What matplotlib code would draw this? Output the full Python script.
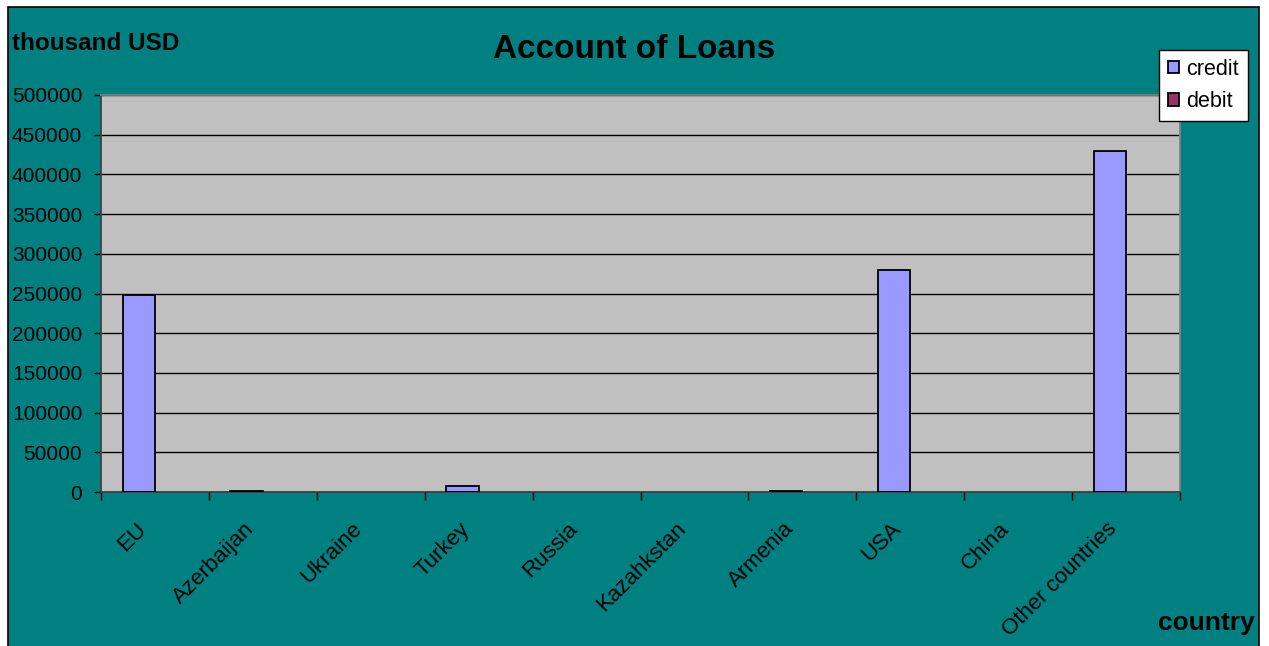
import numpy as np
import matplotlib
matplotlib.use("Agg")
import matplotlib.pyplot as plt
from matplotlib.patches import Rectangle

plt.rcParams["font.family"] = ["Liberation Sans", "DejaVu Sans"]

countries = ["EU", "Azerbaijan", "Ukraine", "Turkey", "Russia", "Kazahkstan",
             "Armenia", "USA", "China", "Other countries"]
credit = [248000, 1500, 0, 7000, 0, 0, 1500, 280000, 0, 430000]
debit = [0, 0, 0, 0, 0, 0, 0, 0, 0, 0]
yticks = list(range(0, 500001, 50000))

TEAL = "#008080"
GREY = "#C0C0C0"
CREDIT_C = "#9999FF"
DEBIT_C = "#993366"

fig = plt.figure(figsize=(12.69, 6.46), dpi=100)
fig.patch.set_facecolor("white")
# teal chart area with black frame, kept behind the axes
fig.patches.append(Rectangle((8 / 1269, -0.01), 1251 / 1269, 1 - 7 / 646 + 0.01,
                             transform=fig.transFigure, facecolor=TEAL,
                             edgecolor="black", linewidth=1.2, zorder=-10))

ax = fig.add_axes([101 / 1269, 1 - 492 / 646, 1079 / 1269, 397 / 646])
ax.set_facecolor(GREY)

x = np.arange(len(countries))
w = 0.3


def edge_widths(vals):
    # empty bars get no outline so they don't thicken the axis line
    return [1.3 if v > 0 else 0 for v in vals]


ax.bar(x - w / 2, credit, w, color=CREDIT_C, edgecolor="black",
       linewidth=edge_widths(credit), label="credit", zorder=3)
ax.bar(x + w / 2, debit, w, color=DEBIT_C, edgecolor="black",
       linewidth=edge_widths(debit), label="debit", zorder=3)

ax.set_xlim(-0.5, len(countries) - 0.5)
ax.set_ylim(0, 500000)
ax.set_yticks(yticks)
ax.set_yticklabels([str(v) for v in yticks], fontsize=15)
ax.yaxis.grid(True, color="black", linewidth=1.0, zorder=1)
ax.set_axisbelow(True)

# ticks at category boundaries; rotated names placed just left of each centre
ax.set_xticks(np.arange(len(countries) + 1) - 0.5)
ax.set_xticklabels([])
for i, name in enumerate(countries):
    ax.annotate(name, xy=(i, 0), xycoords=("data", "axes fraction"),
                xytext=(-14, -19), textcoords="offset points",
                fontsize=16, rotation=45, ha="right", va="top",
                rotation_mode="anchor", annotation_clip=False)
ax.tick_params(axis="x", length=6, width=1, direction="out")
ax.tick_params(axis="y", length=5, width=1, direction="out", pad=8.5)

for s in ["left", "bottom"]:
    ax.spines[s].set_color("#404040")
    ax.spines[s].set_linewidth(1.3)
for s in ["top", "right"]:
    ax.spines[s].set_color("#808080")
    ax.spines[s].set_linewidth(1.3)

fig.text(634 / 1269, 1 - 49 / 646, "Account of Loans", fontsize=24,
         fontweight="bold", ha="center", va="center")
fig.text(12 / 1269, 1 - 44 / 646, "thousand USD", fontsize=17.5,
         fontweight="bold", ha="left", va="center")
fig.text(1255 / 1269, 1 - 623 / 646, "country", fontsize=19,
         fontweight="bold", ha="right", va="center")

leg = fig.legend(loc="upper left", bbox_to_anchor=(1159 / 1269, 1 - 50 / 646),
                 fontsize=15.5, frameon=True, fancybox=False, handlelength=0.55,
                 handleheight=0.55, handletextpad=0.32, borderpad=0.4,
                 labelspacing=0.55, borderaxespad=0)
for h in leg.legend_handles:
    h.set_linewidth(1.3)
leg.get_frame().set_edgecolor("black")
leg.get_frame().set_facecolor("white")
leg.get_frame().set_alpha(1)
leg.get_frame().set_linewidth(1)

fig.savefig("out.png", dpi=100, facecolor=fig.get_facecolor())
